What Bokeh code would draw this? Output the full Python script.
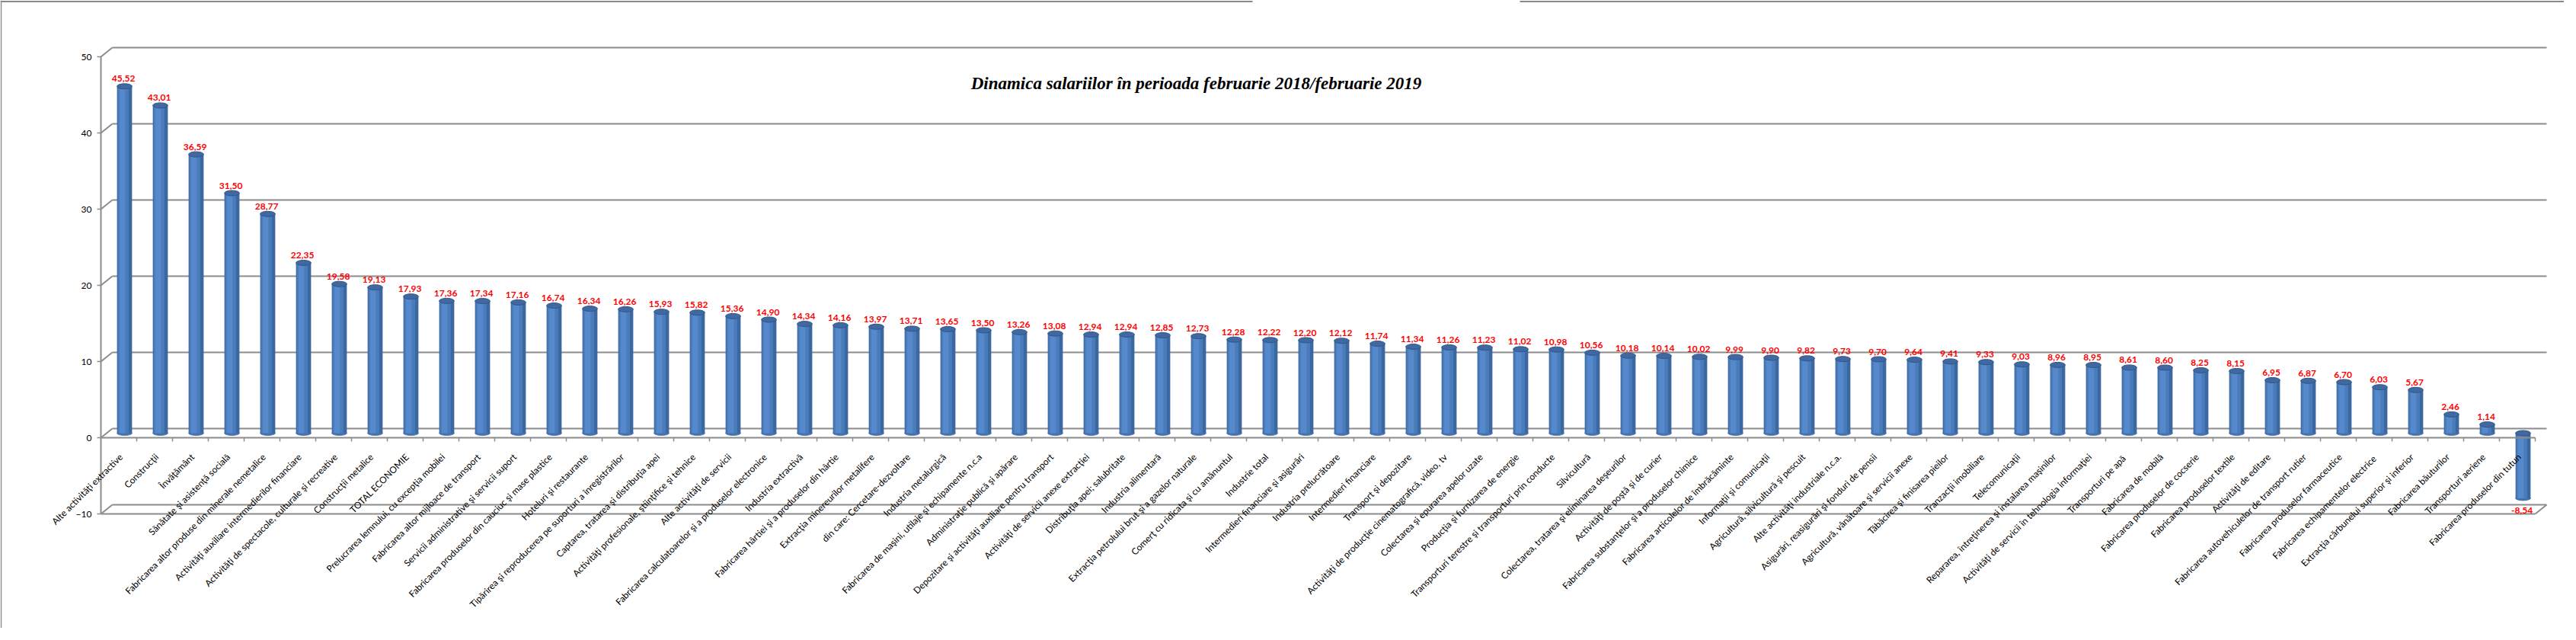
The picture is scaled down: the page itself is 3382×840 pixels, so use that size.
from bokeh.plotting import figure
from bokeh.models import ColumnDataSource, Range1d, SingleIntervalTicker, LabelSet, Label
from bokeh.core.properties import value
from bokeh.embed import file_html
from bokeh.resources import INLINE

categories = [
    "Alte activităţi extractive",
    "Construcţii",
    "Învăţământ",
    "Sănătate şi asistenţă socială",
    "Fabricarea altor produse din minerale nemetalice",
    "Activităţi auxiliare intermedierilor financiare",
    "Activităţi de spectacole, culturale şi recreative",
    "Construcţii metalice",
    "TOTAL ECONOMIE",
    "Prelucrarea lemnului, cu excepţia mobilei",
    "Fabricarea altor mijloace de transport",
    "Servicii administrative şi servicii suport",
    "Fabricarea produselor din cauciuc şi mase plastice",
    "Hoteluri şi restaurante",
    "Tipărirea şi reproducerea pe suporturi a înregistrărilor",
    "Captarea, tratarea şi distribuţia apei",
    "Activităţi profesionale, ştiinţifice şi tehnice",
    "Alte activităţi de servicii",
    "Fabricarea calculatoarelor şi a produselor electronice",
    "Industria extractivă",
    "Fabricarea hârtiei şi a produselor din hârtie",
    "Extracţia minereurilor metalifere",
    "din care: Cercetare-dezvoltare",
    "Industria metalurgică",
    "Fabricarea de maşini, utilaje şi echipamente n.c.a",
    "Administraţie publică şi apărare",
    "Depozitare şi activităţi auxiliare pentru transport",
    "Activităţi de servicii anexe extracţiei",
    "Distribuţia apei; salubritate",
    "Industria alimentară",
    "Extracţia petrolului brut şi a gazelor naturale",
    "Comerţ cu ridicata şi cu amănuntul",
    "Industrie total",
    "Intermedieri financiare şi asigurări",
    "Industria prelucrătoare",
    "Intermedieri financiare",
    "Transport şi depozitare",
    "Activităţi de producţie cinematografică, video, tv",
    "Colectarea şi epurarea apelor uzate",
    "Producţia şi furnizarea de energie",
    "Transporturi terestre şi transporturi prin conducte",
    "Silvicultură",
    "Colectarea, tratarea şi eliminarea deşeurilor",
    "Activităţi de poştă şi de curier",
    "Fabricarea substanţelor şi a produselor chimice",
    "Fabricarea articolelor de îmbrăcăminte",
    "Informaţii şi comunicaţii",
    "Agricultură, silvicultură şi pescuit",
    "Alte activităţi industriale n.c.a.",
    "Asigurări, reasigurări şi fonduri de pensii",
    "Agricultură, vânătoare şi servicii anexe",
    "Tăbăcirea şi finisarea pieilor",
    "Tranzacţii imobiliare",
    "Telecomunicaţii",
    "Repararea, întreţinerea şi instalarea maşinilor",
    "Activităţi de servicii în tehnologia informaţiei",
    "Transporturi  pe apă",
    "Fabricarea de mobilă",
    "Fabricarea produselor de cocserie",
    "Fabricarea produselor textile",
    "Activităţi de editare",
    "Fabricarea autovehiculelor de transport rutier",
    "Fabricarea produselor farmaceutice",
    "Fabricarea echipamentelor  electrice",
    "Extracţia cărbunelui superior şi inferior",
    "Fabricarea băuturilor",
    "Transporturi aeriene",
    "Fabricarea produselor din tutun",
]

values = [
    45.52, 43.01, 36.59, 31.50, 28.77, 22.35, 19.58, 19.13, 17.93, 17.36,
    17.34, 17.16, 16.74, 16.34, 16.26, 15.93, 15.82, 15.36, 14.90, 14.34,
    14.16, 13.97, 13.71, 13.65, 13.50, 13.26, 13.08, 12.94, 12.94, 12.85,
    12.73, 12.28, 12.22, 12.20, 12.12, 11.74, 11.34, 11.26, 11.23, 11.02,
    10.98, 10.56, 10.18, 10.14, 10.02, 9.99, 9.90, 9.82, 9.73, 9.70,
    9.64, 9.41, 9.33, 9.03, 8.96, 8.95, 8.61, 8.60, 8.25, 8.15,
    6.95, 6.87, 6.70, 6.03, 5.67, 2.46, 1.14, -8.54,
]

y_ticks = [-10, 0, 10, 20, 30, 40, 50]
title_text = "Dinamica salariilor în perioada februarie 2018/februarie 2019"

# ---- layout constants (pixels) ----
W, H = 3366, 824
AXIS_X = 132.0        # pixel x of the value axis
PX_CAT = 47.0         # pixels per category
PX_UNIT = 10.0        # pixels per value unit
ZERO_Y = 574.0        # pixel y of value 0 (front)
DX = 15.0 / PX_CAT    # 3D depth offset (x, data units)
DY = 1.2              # 3D depth offset (y, data units)

n = len(values)
x_lo = 0.5 - AXIS_X / PX_CAT
x_hi = x_lo + W / PX_CAT
y_hi = ZERO_Y / PX_UNIT
y_lo = -(H - ZERO_Y) / PX_UNIT

def px_x(px):
    return x_lo + px / PX_CAT

def px_y(py):
    return y_hi - py / PX_UNIT

p = figure(width=W, height=H, output_backend="svg", toolbar_location=None,
           x_range=Range1d(x_lo, x_hi), y_range=Range1d(y_lo, y_hi),
           x_axis_location=None, y_axis_location="left",
           min_border_left=0, min_border_right=0, min_border_top=0, min_border_bottom=0)
p.outline_line_color = None
p.grid.visible = False
p.background_fill_color = "white"
p.border_fill_color = "white"

GRID = "#8c8c8c"
ymin, ymax = min(y_ticks), max(y_ticks)

# chart border (top and left)
p.segment(x0=[px_x(0), px_x(1995)], y0=[px_y(1.5)] * 2, x1=[px_x(1644), x_hi], y1=[px_y(1.5)] * 2,
          line_color="#8a8a8a", line_width=2)
p.segment(x0=[px_x(1)], y0=[y_hi], x1=[px_x(1)], y1=[y_lo], line_color="#8a8a8a", line_width=1.5)

# back wall grid lines and left-wall diagonals
p.segment(x0=[0.5 + DX] * len(y_ticks), y0=[t + DY for t in y_ticks],
          x1=[n + 0.5 + DX] * len(y_ticks), y1=[t + DY for t in y_ticks],
          line_color=GRID, line_width=2)
p.segment(x0=[0.5] * len(y_ticks), y0=y_ticks,
          x1=[0.5 + DX] * len(y_ticks), y1=[t + DY for t in y_ticks],
          line_color=GRID, line_width=2)

# bars (cylinders)
xs = [i + 1 + DX / 2 for i in range(n)]
tops = [max(v, 0) + DY / 2 for v in values]
bots = [min(v, 0) + DY / 2 for v in values]
src = ColumnDataSource(dict(x=xs, top=tops, bot=bots,
                            xh=[x - 0.035 for x in xs], xhh=[x - 0.06 for x in xs]))
BW = 0.42
p.ellipse(x="x", y="bot", width=BW, height=6, height_units="screen", source=src,
          fill_color="#4674b0", line_color="#3a659e", line_width=0.8)
p.vbar(x="x", top="top", bottom="bot", width=BW, source=src,
       fill_color="#3c68a2", line_color=None)
p.vbar(x="xh", top="top", bottom="bot", width=BW * 0.72, source=src,
       fill_color="#4a7cbb", line_color=None)
p.vbar(x="xhh", top="top", bottom="bot", width=BW * 0.38, source=src,
       fill_color="#5589cb", line_color=None)
p.ellipse(x="x", y="top", width=BW, height=7, height_units="screen", source=src,
          fill_color="#41699f", line_color="#2f568a", line_width=1)

# front floor / bottom lines, category ticks
p.segment(x0=[0.5, 0.5], y0=[0, ymin], x1=[n + 0.5, n + 0.5], y1=[0, ymin],
          line_color=GRID, line_width=2)
p.segment(x0=[n + 0.5], y0=[ymin], x1=[n + 0.5 + DX], y1=[ymin + DY],
          line_color=GRID, line_width=2)
p.segment(x0=[k + 0.5 for k in range(1, n + 1)], y0=[0] * n,
          x1=[k + 0.5 for k in range(1, n + 1)], y1=[-0.5] * n,
          line_color=GRID, line_width=1.5)

# value labels
vlab = [f"{v:.2f}".replace(".", ",") for v in values]
vy = [t + 1.0 if v >= 0 else b - 1.6 for v, t, b in zip(values, tops, bots)]
p.text(x=[x - 0.03 for x in xs], y=vy, text=vlab, text_color="#ff0000",
       text_font=value("Lato"), text_font_style="bold", text_font_size="12px",
       text_align="center", text_baseline="middle")

# category labels (rotated)
lsrc = ColumnDataSource(dict(x=[i + 1 + 0.06 for i in range(n)], y=[-2.3] * n, t=categories))
p.add_layout(LabelSet(x="x", y="y", text="t", source=lsrc, angle=45, angle_units="deg",
                      text_align="right", text_baseline="middle",
                      text_font=value("Lato"), text_font_size="12px", text_color="#000000"))

# title
p.add_layout(Label(x=px_x(1570), y=px_y(109), text=title_text, text_font="Liberation Serif",
                   text_font_style="bold italic", text_font_size="23px",
                   text_align="center", text_baseline="middle", text_color="#000000"))

# y axis, placed inside the frame at the front-left edge of the 3D box
ax = p.yaxis[0]
ax.fixed_location = 0.5
ax.ticker = SingleIntervalTicker(interval=10)
ax.bounds = (ymin, ymax)
ax.axis_line_color = GRID
ax.axis_line_width = 2
ax.major_tick_line_color = GRID
ax.major_tick_line_width = 1.5
ax.major_tick_out = 5
ax.major_tick_in = 0
ax.minor_tick_line_color = None
ax.major_label_text_font = "Lato"
ax.major_label_text_font_size = "12px"
ax.major_label_text_color = "#000000"
ax.major_label_standoff = 7

open("out.html", "w").write(file_html(p, INLINE))
